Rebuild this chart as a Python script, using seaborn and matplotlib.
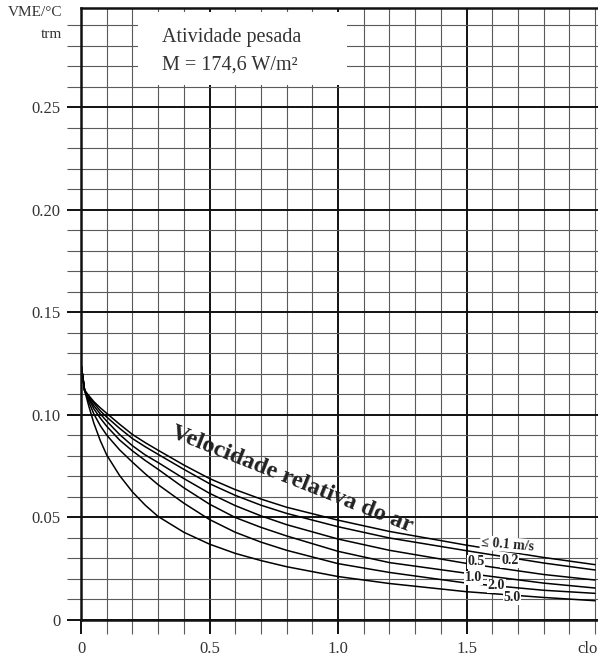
import numpy as np
import pandas as pd
import matplotlib
matplotlib.use("Agg")
import matplotlib.pyplot as plt
import seaborn as sns
from matplotlib.patches import Rectangle
from matplotlib.ticker import MultipleLocator

sns.set_style("white")
plt.rcParams['font.family'] = ['Liberation Serif', 'DejaVu Serif']

# ---- data ----
clo = [0.0, 0.014, 0.03, 0.05, 0.075, 0.1, 0.15, 0.2, 0.25, 0.3, 0.4, 0.5, 0.6, 0.7, 0.8, 1.0, 1.2, 1.5, 1.8, 2.0]
v_01 = [0.125, 0.112, 0.1095, 0.1065, 0.1035, 0.1008, 0.0955, 0.0905, 0.0865, 0.0828, 0.0756, 0.0690, 0.0636,
        0.0590, 0.0550, 0.0487, 0.0432, 0.0365, 0.0305, 0.0270]
v_02 = [0.125, 0.112, 0.109, 0.1058, 0.102, 0.099, 0.0935, 0.0885, 0.0845, 0.0808, 0.0735, 0.0665, 0.0608,
        0.056, 0.052, 0.0455, 0.040, 0.0338, 0.0278, 0.0244]
v_05 = [0.125, 0.112, 0.1085, 0.1045, 0.1005, 0.097, 0.0905, 0.085, 0.0805, 0.0768, 0.069, 0.0618, 0.0558,
        0.0508, 0.0465, 0.0395, 0.034, 0.0276, 0.0222, 0.0195]
v_10 = [0.125, 0.112, 0.1078, 0.103, 0.0985, 0.0945, 0.0878, 0.0825, 0.0778, 0.0735, 0.0645, 0.0565, 0.050,
        0.0452, 0.041, 0.0335, 0.028, 0.0228, 0.018, 0.0156]
v_20 = [0.125, 0.112, 0.1065, 0.1005, 0.0948, 0.0902, 0.083, 0.077, 0.0713, 0.066, 0.057, 0.049, 0.0428,
        0.038, 0.034, 0.0275, 0.0232, 0.018, 0.0145, 0.013]
v_50 = [0.125, 0.112, 0.1045, 0.096, 0.0875, 0.0805, 0.0705, 0.0625, 0.056, 0.0505, 0.0428, 0.037, 0.0325,
        0.029, 0.026, 0.0212, 0.0178, 0.0138, 0.011, 0.0094]
series_names = ["≤ 0.1 m/s", "0.2", "0.5", "1.0", "2.0", "5.0"]
series_vals = [v_01, v_02, v_05, v_10, v_20, v_50]

x_ticks = [0.0, 0.5, 1.0, 1.5]
x_ticklabels = ["0", "0.5", "1.0", "1.5"]
x_unit = "clo"
y_ticks = [0.0, 0.05, 0.10, 0.15, 0.20, 0.25]
y_ticklabels = ["0", "0.05", "0.10", "0.15", "0.20", "0.25"]

df = pd.concat([pd.DataFrame({"clo": clo, "valor": v, "vel": n})
                for n, v in zip(series_names, series_vals)], ignore_index=True)

# ---- figure ----
W, H = 598, 662
fig = plt.figure(figsize=(W / 100, H / 100), dpi=100)
ax = fig.add_axes([81 / W, 42 / H, 517 / W, 612 / H])

sns.lineplot(data=df, x="clo", y="valor", units="vel", estimator=None,
             color="black", lw=1.1, sort=False, ax=ax, zorder=2)

ax.set_xlim(0, 517 / 257)
ax.set_ylim(0, 0.2985)
ax.set_xticks(x_ticks)
ax.set_xticklabels(x_ticklabels)
ax.set_yticks(y_ticks)
ax.set_yticklabels(y_ticklabels)
ax.xaxis.set_minor_locator(MultipleLocator(0.1))
ax.yaxis.set_minor_locator(MultipleLocator(0.01))
ax.set_axisbelow(True)
ax.grid(which="major", color="#111111", lw=1.4)
ax.grid(which="minor", color="#5a5a5a", lw=0.8)
ax.tick_params(which="major", direction="out", length=10, width=1.4, color="#111111",
               labelsize=12, labelcolor="#333333", pad=5)
ax.tick_params(which="minor", direction="out", length=10, width=0.8, color="#5a5a5a")
ax.tick_params(axis="y", which="both", left=True)
ax.tick_params(axis="x", which="both", bottom=True)
ax.set_xlabel("")
ax.set_ylabel("")
for s in ["left", "bottom", "top"]:
    ax.spines[s].set_visible(True)
    ax.spines[s].set_color("#111111")
    ax.spines[s].set_linewidth(1.8)
ax.spines["right"].set_visible(False)

# x unit label at the end of the axis
ax.annotate(x_unit, xy=(1.97, 0), xycoords=("data", "axes fraction"),
            xytext=(0, -15), textcoords="offset points", ha="center", va="top",
            fontsize=12, color="#333333")

# white box behind the activity annotation
ax.add_patch(Rectangle((0.110, 0.874), 0.405, 0.119, transform=ax.transAxes,
                       facecolor="white", edgecolor="none", zorder=1))
ax.text(0.157, 0.951, "Atividade pesada", transform=ax.transAxes, fontsize=14.5,
        color="#333333", ha="left", va="center", zorder=3)
ax.text(0.157, 0.907, "M = 174,6 W/m²", transform=ax.transAxes, fontsize=14.5,
        color="#333333", ha="left", va="center", zorder=3)

# y-axis unit label
ax.text(-0.0368, 0.992, "VME/°C", transform=ax.transAxes, fontsize=11,
        color="#333333", ha="right", va="center", clip_on=False)
ax.text(-0.0368, 0.9575, "trm", transform=ax.transAxes, fontsize=11,
        color="#333333", ha="right", va="center", clip_on=False)

# curve title
ax.text(0.821, 0.0685, "Velocidade relativa do ar", fontsize=17.5, fontweight="bold",
        color="#222222", rotation=-21.6, rotation_mode="anchor",
        ha="center", va="center", zorder=3)

# curve labels
bb = dict(facecolor="white", edgecolor="none", pad=0.6)
lbl = dict(fontsize=10, fontweight="bold", color="#222222", ha="center", va="center",
           zorder=3, bbox=bb)
ax.text(1.658, 0.0368, "≤ 0.1 m/s", rotation=-5, **lbl)
ax.text(1.537, 0.0283, "0.5", **lbl)
ax.text(1.669, 0.0288, "0.2", **lbl)
ax.text(1.527, 0.0205, "1.0", **lbl)
ax.text(1.615, 0.0166, "2.0", **lbl)
ax.text(1.677, 0.0110, "5.0", **lbl)

fig.savefig("out.png", dpi=100)
